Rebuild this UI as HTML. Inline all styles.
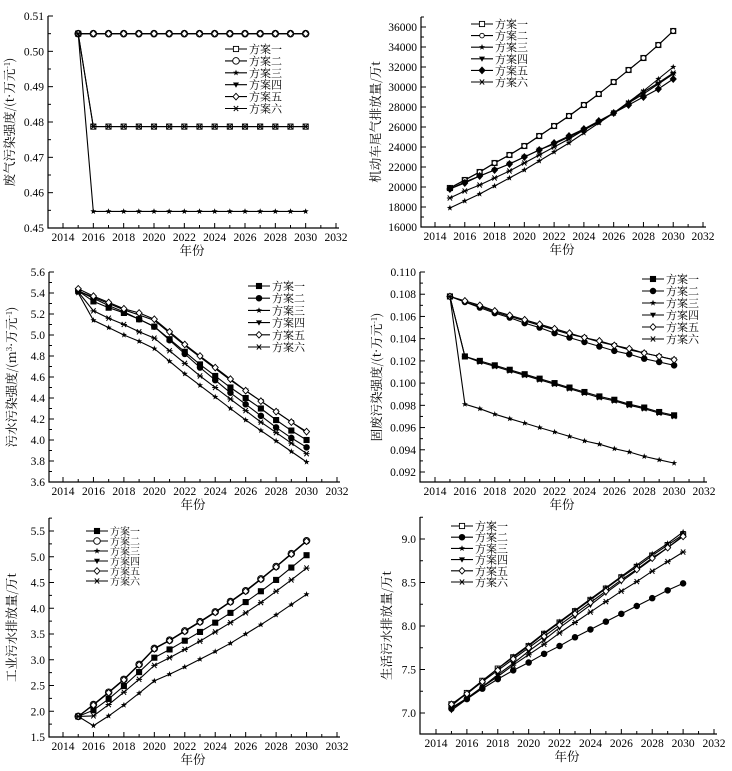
<!DOCTYPE html>
<html><head><meta charset="utf-8"><style>
html,body{margin:0;padding:0;background:#fff;}
svg{display:block;font-family:"Liberation Serif","Noto Serif CJK SC",serif;}
</style></head><body>
<svg id="chart" width="732" height="771" viewBox="0 0 732 771" xmlns="http://www.w3.org/2000/svg"></svg>
<script>
const years=[2015,2016,2017,2018,2019,2020,2021,2022,2023,2024,2025,2026,2027,2028,2029,2030];
const seriesNames=["方案一","方案二","方案三","方案四","方案五","方案六"];
const xTicks=[2014,2016,2018,2020,2022,2024,2026,2028,2030,2032];
// panel 1: 废气污染强度
const p1s1=[.505,.4787,.4787,.4787,.4787,.4787,.4787,.4787,.4787,.4787,.4787,.4787,.4787,.4787,.4787,.4787];
const p1s2=[.505,.505,.505,.505,.505,.505,.505,.505,.505,.505,.505,.505,.505,.505,.505,.505];
const p1s3=[.505,.4547,.4547,.4547,.4547,.4547,.4547,.4547,.4547,.4547,.4547,.4547,.4547,.4547,.4547,.4547];
const p1s4=[.505,.505,.505,.505,.505,.505,.505,.505,.505,.505,.505,.505,.505,.505,.505,.505];
const p1s5=[.505,.505,.505,.505,.505,.505,.505,.505,.505,.505,.505,.505,.505,.505,.505,.505];
const p1s6=[.505,.4787,.4787,.4787,.4787,.4787,.4787,.4787,.4787,.4787,.4787,.4787,.4787,.4787,.4787,.4787];
const p1Ticks=[0.45,0.46,0.47,0.48,0.49,0.50,0.51];
// panel 2: 机动车尾气排放量
const p2s1=[19900,20700,21500,22400,23200,24100,25100,26100,27100,28200,29300,30500,31700,32900,34200,35600];
const p2s2=[19900,20700,21500,22400,23200,24100,25100,26100,27100,28200,29300,30500,31700,32900,34200,35600];
const p2s3=[17900,18600,19300,20100,20900,21700,22600,23500,24400,25400,26400,27400,28500,29600,30800,32000];
const p2s4=[19800,20500,21100,21700,22300,23000,23700,24300,25000,25700,26500,27400,28400,29300,30300,31300];
const p2s5=[19800,20400,21100,21700,22300,23000,23700,24400,25100,25800,26600,27400,28200,29000,29800,30800];
const p2s6=[18900,19600,20200,20900,21600,22400,23200,24000,24800,25700,26500,27400,28400,29500,30400,31400];
const p2Ticks=[16000,18000,20000,22000,24000,26000,28000,30000,32000,34000,36000];
// panel 3: 污水污染强度
const p3s1=[5.42,5.32,5.26,5.21,5.15,5.08,4.96,4.84,4.72,4.61,4.50,4.40,4.30,4.19,4.09,4.00];
const p3s2=[5.42,5.35,5.28,5.22,5.15,5.08,4.95,4.82,4.69,4.57,4.45,4.34,4.23,4.12,4.02,3.93];
const p3s3=[5.40,5.14,5.07,5.00,4.94,4.87,4.75,4.63,4.52,4.41,4.30,4.19,4.09,3.99,3.89,3.79];
const p3s4=[5.42,5.36,5.30,5.24,5.19,5.14,5.02,4.90,4.79,4.68,4.57,4.47,4.37,4.27,4.17,4.07];
const p3s5=[5.44,5.37,5.31,5.25,5.21,5.15,5.03,4.91,4.80,4.69,4.58,4.47,4.37,4.27,4.17,4.08];
const p3s6=[5.41,5.23,5.16,5.10,5.03,4.97,4.85,4.73,4.61,4.50,4.39,4.28,4.17,4.07,3.97,3.87];
const p3Ticks=[3.6,3.8,4.0,4.2,4.4,4.6,4.8,5.0,5.2,5.4,5.6];
// panel 4: 固废污染强度
const p4s1=[.1078,.1024,.1020,.1016,.1012,.1008,.1004,.1000,.0996,.0992,.0988,.0985,.0981,.0978,.0974,.0971];
const p4s2=[.1078,.1073,.1068,.1063,.1059,.1054,.1050,.1045,.1041,.1037,.1033,.1029,.1026,.1022,.1019,.1016];
const p4s3=[.1078,.0981,.0977,.0972,.0968,.0964,.0960,.0956,.0952,.0948,.0945,.0941,.0938,.0934,.0931,.0928];
const p4s4=[.1078,.1073,.1069,.1064,.1060,.1056,.1052,.1048,.1044,.1041,.1037,.1034,.1030,.1027,.1024,.1021];
const p4s5=[.1078,.1074,.1070,.1065,.1061,.1057,.1053,.1049,.1045,.1041,.1038,.1034,.1031,.1027,.1024,.1021];
const p4s6=[.1078,.1024,.1019,.1015,.1011,.1007,.1003,.0999,.0995,.0991,.0987,.0984,.0980,.0977,.0973,.0970];
const p4Ticks=[0.092,0.094,0.096,0.098,0.100,0.102,0.104,0.106,0.108,0.110];
// panel 5: 工业污水排放量
const p5s1=[1.9,2.02,2.24,2.49,2.76,3.04,3.20,3.37,3.54,3.72,3.91,4.12,4.33,4.55,4.79,5.03];
const p5s2=[1.9,2.13,2.37,2.62,2.91,3.22,3.38,3.56,3.74,3.93,4.13,4.34,4.57,4.81,5.06,5.31];
const p5s3=[1.9,1.72,1.91,2.12,2.35,2.59,2.72,2.86,3.01,3.16,3.32,3.50,3.68,3.87,4.07,4.27];
const p5s4=[1.9,2.13,2.37,2.62,2.91,3.22,3.38,3.56,3.74,3.93,4.13,4.34,4.57,4.81,5.06,5.31];
const p5s5=[1.9,2.12,2.36,2.61,2.90,3.21,3.37,3.55,3.73,3.92,4.12,4.33,4.56,4.80,5.05,5.30];
const p5s6=[1.9,1.91,2.13,2.37,2.62,2.89,3.04,3.20,3.36,3.54,3.72,3.91,4.11,4.33,4.55,4.78];
const p5Ticks=[1.5,2.0,2.5,3.0,3.5,4.0,4.5,5.0,5.5];
// panel 6: 生活污水排放量
const p6s1=[7.10,7.23,7.37,7.51,7.64,7.77,7.91,8.04,8.17,8.30,8.43,8.56,8.68,8.81,8.93,9.05];
const p6s2=[7.05,7.16,7.28,7.39,7.49,7.58,7.68,7.77,7.87,7.96,8.05,8.14,8.23,8.32,8.41,8.49];
const p6s3=[7.08,7.23,7.37,7.51,7.65,7.78,7.92,8.05,8.18,8.31,8.44,8.57,8.70,8.83,8.95,9.08];
const p6s4=[7.03,7.16,7.30,7.44,7.57,7.71,7.84,7.98,8.11,8.24,8.38,8.51,8.64,8.77,8.90,9.04];
const p6s5=[7.10,7.22,7.36,7.49,7.62,7.75,7.88,8.01,8.14,8.27,8.40,8.53,8.65,8.78,8.90,9.03];
const p6s6=[7.06,7.17,7.30,7.42,7.55,7.67,7.79,7.92,8.04,8.16,8.28,8.40,8.51,8.63,8.74,8.85];
const p6Ticks=[7.0,7.5,8.0,8.5,9.0];

const NS="http://www.w3.org/2000/svg";
const svg=document.getElementById('chart');
function mk(tag,attrs,parent){const e=document.createElementNS(NS,tag);for(const k in attrs)e.setAttribute(k,attrs[k]);(parent||svg).appendChild(e);return e;}

function marker(g,type,x,y){
  let e;const r=2.6;
  if(type==='sqO'||type==='sqF'){e=mk('rect',{x:x-r,y:y-r,width:2*r,height:2*r,fill:type==='sqF'?'#000':'#fff',stroke:'#000','stroke-width':0.9},g);}
  else if(type==='ciO'||type==='ciF'||type==='ciOs'){const rr=type==='ciOs'?2.3:(type==='ciF'?2.8:3.3);e=mk('circle',{cx:x,cy:y,r:rr,fill:type==='ciF'?'#000':'#fff',stroke:'#000','stroke-width':0.9},g);}
  else if(type==='star'){let p=[];for(let i=0;i<10;i++){const a=-Math.PI/2+i*Math.PI/5;const rr=i%2?1.3:3.2;p.push((x+rr*Math.cos(a)).toFixed(1)+','+(y+rr*Math.sin(a)).toFixed(1));}e=mk('polygon',{points:p.join(' '),fill:'#000'},g);}
  else if(type==='tri'){e=mk('polygon',{points:`${x-3},${y-2.2} ${x+3},${y-2.2} ${x},${y+3}`,fill:'#000'},g);}
  else if(type==='diO'||type==='diF'){e=mk('polygon',{points:`${x},${y-3.3} ${x+3},${y} ${x},${y+3.3} ${x-3},${y}`,fill:type==='diF'?'#000':'#fff',stroke:'#000','stroke-width':0.9},g);}
  else if(type==='ast'){e=mk('path',{d:`M${x-3},${y}H${x+3}M${x-2.2},${y-2.6}L${x+2.2},${y+2.6}M${x-2.2},${y+2.6}L${x+2.2},${y-2.6}`,stroke:'#000','stroke-width':1,fill:'none'},g);}
  
  
}

function panel(cfg){
  const g=mk('g',{});
  
  
  const X=v=>cfg.x14+(v-2014)*(cfg.x32-cfg.x14)/18;
  const Y=v=>cfg.yA+(v-cfg.vA)*(cfg.yB-cfg.yA)/(cfg.vB-cfg.vA);
  const ax=mk('path',{d:`M${cfg.ax},${cfg.top}V${cfg.bot}H${X(2032)+3}`,stroke:'#000','stroke-width':1.2,fill:'none'},g);
  
  
  for(let yv=2014;yv<=2032;yv++){
    const major=yv%2===0;
    mk('line',{x1:X(yv),x2:X(yv),y1:cfg.bot,y2:cfg.bot-(major?5:3),stroke:'#000','stroke-width':1},g);
  }
  xTicks.forEach(t=>{const tx=mk('text',{x:X(t),y:cfg.bot+13,'text-anchor':'middle','font-size':11.5},g);tx.textContent=t;
    
    });
  const tk=cfg.ticks;const step=tk[1]-tk[0];
  tk.forEach((t,i)=>{
    mk('line',{x1:cfg.ax,x2:cfg.ax+5,y1:Y(t),y2:Y(t),stroke:'#000','stroke-width':1},g);
    const ym=Y(t+step/2);
    if(ym>=cfg.top-0.5 && ym<=cfg.bot) mk('line',{x1:cfg.ax,x2:cfg.ax+3,y1:ym,y2:ym,stroke:'#000','stroke-width':1},g);
    const tx=mk('text',{x:cfg.ax-4,y:Y(t)+4,'text-anchor':'end','font-size':11.5},g);tx.textContent=t.toFixed(cfg.dec);
    
    
  });
  const ym0=Y(tk[0]-step/2); if(ym0<=cfg.bot) mk('line',{x1:cfg.ax,x2:cfg.ax+3,y1:ym0,y2:ym0,stroke:'#000','stroke-width':1},g);
  const xt=mk('text',{x:(cfg.ax+X(2032))/2,y:cfg.bot+27,'text-anchor':'middle','font-size':12.5,'font-family':'"Noto Serif CJK SC",serif'},g);xt.textContent='年份';
  
  
  const yc=(cfg.top+cfg.bot)/2;
  const yt=mk('text',{x:cfg.ytx,y:yc,'text-anchor':'middle','font-size':12.5,'font-family':'"Noto Serif CJK SC",serif',transform:`rotate(-90 ${cfg.ytx} ${yc})`},g);
  yt.innerHTML=cfg.ytitle;
  
  
  cfg.series.forEach((s,si)=>{
    const sg=mk('g',{},g);
    
    
    const d=s.map((v,i)=>(i?'L':'M')+X(years[i]).toFixed(1)+','+Y(v).toFixed(1)).join('');
    mk('path',{d:d,stroke:'#000','stroke-width':1.1,fill:'none'},sg);
    s.forEach((v,i)=>marker(sg,cfg.marks[si],X(years[i]),Y(v)));
  });
  const lg=mk('g',{},g);
  
  
  seriesNames.forEach((n,i)=>{
    const ey=cfg.lg.y+i*cfg.lg.dy;
    const eg=mk('g',{},lg);
    
    
    mk('line',{x1:cfg.lg.x,x2:cfg.lg.x+22,y1:ey,y2:ey,stroke:'#000','stroke-width':1.1},eg);
    marker(eg,cfg.marks[i],cfg.lg.x+11,ey);
    const t=mk('text',{x:cfg.lg.x+24,y:ey+4,'font-size':cfg.lg.fs||11,'font-family':'"Noto Serif CJK SC",serif'},eg);t.textContent=n;
  });
}

panel({name:'panel-exhaust-intensity',ax:48,top:16,bot:228,x14:63,x32:336,yA:16,vA:0.51,yB:228,vB:0.45,ticks:p1Ticks,dec:2,ytx:14,
  ytitle:'废气污染强度/(t·万元<tspan dy="-4" font-size="8">-1</tspan><tspan dy="4">)</tspan>',
  series:[p1s1,p1s2,p1s3,p1s4,p1s5,p1s6],marks:['sqO','ciO','star','tri','diO','ast'],lg:{x:225,y:49,dy:11.9}});
panel({name:'panel-vehicle-exhaust',ax:421,top:17,bot:227,x14:435,x32:703,yA:27,vA:36000,yB:227,vB:16000,ticks:p2Ticks,dec:0,ytx:380,
  ytitle:'机动车尾气排放量/万t',
  series:[p2s1,p2s2,p2s3,p2s4,p2s5,p2s6],marks:['sqO','ciOs','star','tri','diF','ast'],lg:{x:471,y:24,dy:11.6}});
panel({name:'panel-wastewater-intensity',ax:49,top:272,bot:482,x14:63,x32:337,yA:272,vA:5.6,yB:482,vB:3.6,ticks:p3Ticks,dec:1,ytx:16,
  ytitle:'污水污染强度/(m<tspan dy="-4" font-size="8">3</tspan><tspan dy="4">·万元</tspan><tspan dy="-4" font-size="8">-1</tspan><tspan dy="4">)</tspan>',
  series:[p3s1,p3s2,p3s3,p3s4,p3s5,p3s6],marks:['sqF','ciF','star','tri','diO','ast'],lg:{x:248,y:286,dy:12.2}});
panel({name:'panel-solid-waste-intensity',ax:420,top:272,bot:482,x14:435,x32:704,yA:272,vA:0.110,yB:472,vB:0.092,ticks:p4Ticks,dec:3,ytx:381,
  ytitle:'固废污染强度/(t·万元<tspan dy="-4" font-size="8">-1</tspan><tspan dy="4">)</tspan>',
  series:[p4s1,p4s2,p4s3,p4s4,p4s5,p4s6],marks:['sqF','ciF','star','tri','diO','ast'],lg:{x:642,y:279,dy:12}});
panel({name:'panel-industrial-wastewater',ax:49,top:518,bot:737,x14:63,x32:337,yA:531,vA:5.5,yB:737,vB:1.5,ticks:p5Ticks,dec:1,ytx:16,
  ytitle:'工业污水排放量/万t',
  series:[p5s1,p5s2,p5s3,p5s4,p5s5,p5s6],marks:['sqF','ciO','star','tri','diO','ast'],lg:{x:86,y:531,dy:10,fs:10}});
panel({name:'panel-domestic-wastewater',ax:420,top:517,bot:734,x14:436,x32:714,yA:539,vA:9.0,yB:713,vB:7.0,ticks:p6Ticks,dec:1,ytx:391,
  ytitle:'生活污水排放量/万t',
  series:[p6s1,p6s2,p6s3,p6s4,p6s5,p6s6],marks:['sqO','ciF','star','tri','diO','ast'],lg:{x:451,y:526,dy:11.2}});
</script>
</body></html>
